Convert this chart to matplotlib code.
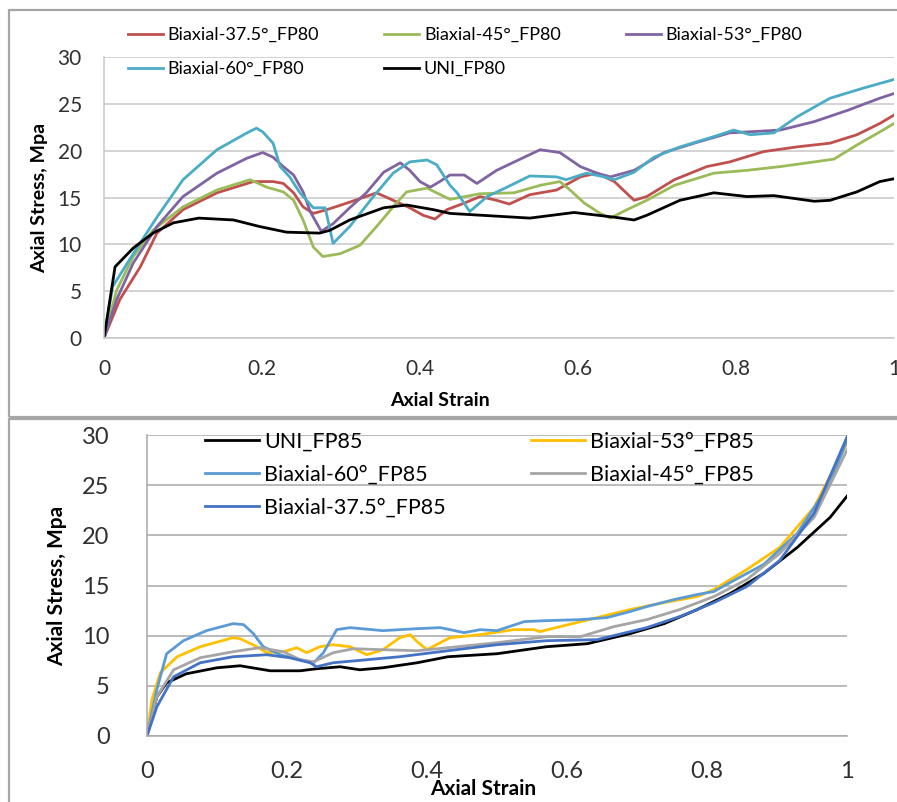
import matplotlib.pyplot as plt
from matplotlib.patches import Rectangle

plt.rcParams['font.family'] = ['Lato', 'DejaVu Sans']

# top chart (FP80)
uni80_x = [0, 0.014, 0.037, 0.062, 0.088, 0.12, 0.164, 0.197, 0.231, 0.273, 0.286, 0.311, 0.354, 0.383, 0.417,
           0.438, 0.519, 0.539, 0.595, 0.646, 0.671, 0.687, 0.729, 0.772, 0.814, 0.848, 0.899, 0.919, 0.953, 0.982, 1.0]
uni80_y = [0, 7.6, 9.6, 11.2, 12.3, 12.8, 12.6, 11.9, 11.3, 11.2, 11.5, 12.6, 13.9, 14.2, 13.7,
           13.3, 12.9, 12.8, 13.4, 12.9, 12.6, 13.1, 14.7, 15.5, 15.1, 15.2, 14.6, 14.7, 15.6, 16.7, 17.0]
b375_80_x = [0, 0.02, 0.046, 0.067, 0.1, 0.143, 0.189, 0.214, 0.227, 0.24, 0.252, 0.265, 0.282, 0.311, 0.345,
             0.366, 0.387, 0.404, 0.419, 0.434, 0.456, 0.476, 0.497, 0.513, 0.539, 0.573, 0.603, 0.624, 0.646,
             0.671, 0.687, 0.722, 0.763, 0.792, 0.835, 0.877, 0.919, 0.953, 0.982, 1.0]
b375_80_y = [0, 4.1, 7.6, 11.2, 13.7, 15.5, 16.7, 16.7, 16.5, 15.5, 14.0, 13.3, 13.7, 14.5, 15.5,
             14.7, 13.9, 13.1, 12.7, 13.7, 14.4, 15.1, 14.7, 14.3, 15.3, 15.8, 17.2, 17.6, 16.7,
             14.7, 15.1, 16.9, 18.3, 18.8, 19.9, 20.4, 20.8, 21.7, 22.9, 23.8]
b45_80_x = [0, 0.016, 0.037, 0.062, 0.1, 0.143, 0.185, 0.206, 0.227, 0.24, 0.252, 0.265, 0.277, 0.299, 0.324,
            0.345, 0.366, 0.383, 0.409, 0.421, 0.438, 0.476, 0.519, 0.552, 0.577, 0.59, 0.608, 0.628, 0.641,
            0.662, 0.687, 0.722, 0.772, 0.814, 0.856, 0.899, 0.924, 0.953, 0.982, 1.0]
b45_80_y = [0, 5.1, 8.7, 11.5, 14.0, 15.8, 16.9, 16.1, 15.6, 14.7, 12.6, 9.7, 8.7, 9.0, 9.9,
            11.9, 14.0, 15.6, 16.0, 15.5, 14.8, 15.4, 15.5, 16.3, 16.7, 15.8, 14.4, 13.3, 12.8,
            13.7, 14.7, 16.3, 17.6, 17.9, 18.3, 18.8, 19.1, 20.6, 22.0, 22.9]
b53_80_x = [0, 0.016, 0.037, 0.067, 0.1, 0.143, 0.181, 0.201, 0.214, 0.227, 0.24, 0.252, 0.261, 0.275, 0.29,
            0.311, 0.332, 0.354, 0.375, 0.387, 0.4, 0.413, 0.425, 0.438, 0.456, 0.472, 0.497, 0.532, 0.552,
            0.577, 0.603, 0.624, 0.641, 0.671, 0.709, 0.751, 0.792, 0.835, 0.856, 0.899, 0.941, 0.982, 1.0]
b53_80_y = [0, 4.1, 8.0, 11.9, 15.1, 17.6, 19.2, 19.8, 19.3, 18.3, 17.4, 15.6, 13.5, 11.4, 12.2,
            13.9, 15.5, 17.7, 18.7, 17.9, 16.7, 16.1, 16.7, 17.4, 17.4, 16.5, 17.9, 19.3, 20.1,
            19.8, 18.3, 17.6, 17.2, 17.9, 19.8, 20.9, 21.9, 22.1, 22.2, 23.1, 24.3, 25.6, 26.1]
b60_80_x = [0, 0.011, 0.037, 0.067, 0.1, 0.143, 0.181, 0.193, 0.201, 0.214, 0.223, 0.235, 0.248, 0.265, 0.28,
            0.29, 0.311, 0.341, 0.366, 0.387, 0.409, 0.421, 0.438, 0.447, 0.463, 0.485, 0.51, 0.539, 0.573,
            0.585, 0.611, 0.633, 0.646, 0.671, 0.696, 0.729, 0.772, 0.797, 0.818, 0.848, 0.877, 0.919, 0.962, 1.0]
b60_80_y = [0, 5.5, 9.0, 12.9, 16.9, 20.1, 21.9, 22.4, 22.0, 20.8, 18.3, 17.2, 15.5, 13.9, 13.9,
            10.1, 11.9, 15.1, 17.6, 18.8, 19.0, 18.5, 16.3, 15.5, 13.5, 15.1, 16.1, 17.3, 17.2,
            16.9, 17.6, 17.2, 16.9, 17.7, 19.3, 20.4, 21.5, 22.2, 21.7, 21.9, 23.6, 25.6, 26.7, 27.6]

# bottom chart (FP85)
uni85_x = [0, 0.014, 0.028, 0.056, 0.1, 0.133, 0.176, 0.219, 0.242, 0.276, 0.304, 0.337, 0.386, 0.43, 0.5,
           0.571, 0.629, 0.69, 0.739, 0.786, 0.833, 0.881, 0.929, 0.976, 1.0]
uni85_y = [0, 3.9, 5.3, 6.2, 6.8, 7.0, 6.5, 6.5, 6.7, 6.9, 6.6, 6.8, 7.3, 7.9, 8.2,
           8.9, 9.2, 10.2, 11.2, 12.6, 14.2, 16.2, 18.8, 21.8, 23.9]
b53_85_x = [0, 0.007, 0.019, 0.043, 0.076, 0.123, 0.133, 0.157, 0.171, 0.195, 0.214, 0.228, 0.247, 0.266,
            0.29, 0.314, 0.337, 0.361, 0.376, 0.386, 0.4, 0.419, 0.433, 0.476, 0.524, 0.553, 0.561, 0.596,
            0.643, 0.69, 0.739, 0.786, 0.81, 0.857, 0.904, 0.953, 0.99, 1.0]
b53_85_y = [0, 3.6, 6.3, 7.9, 8.9, 9.8, 9.7, 8.9, 8.3, 8.4, 8.8, 8.3, 8.9, 9.1,
            8.9, 8.1, 8.6, 9.8, 10.1, 9.4, 8.6, 9.3, 9.8, 10.1, 10.6, 10.6, 10.4, 11.0,
            11.8, 12.6, 13.3, 13.9, 14.6, 16.6, 18.8, 22.8, 27.8, 29.2]
b60_85_x = [0, 0.014, 0.028, 0.052, 0.085, 0.123, 0.138, 0.152, 0.166, 0.19, 0.219, 0.238, 0.252, 0.271,
            0.29, 0.337, 0.386, 0.419, 0.433, 0.453, 0.476, 0.5, 0.539, 0.571, 0.619, 0.657, 0.69, 0.714,
            0.753, 0.786, 0.81, 0.833, 0.881, 0.929, 0.976, 1.0]
b60_85_y = [0, 4.6, 8.2, 9.5, 10.5, 11.2, 11.1, 10.2, 8.9, 8.1, 7.6, 7.3, 8.3, 10.6,
            10.8, 10.5, 10.7, 10.8, 10.6, 10.3, 10.6, 10.5, 11.4, 11.5, 11.6, 11.8, 12.4, 12.9,
            13.6, 14.1, 14.4, 15.3, 17.1, 20.2, 25.2, 29.5]
b45_85_x = [0, 0.014, 0.038, 0.076, 0.123, 0.161, 0.195, 0.219, 0.238, 0.266, 0.295, 0.337, 0.386, 0.43,
            0.5, 0.571, 0.619, 0.667, 0.714, 0.761, 0.81, 0.857, 0.904, 0.953, 1.0]
b45_85_y = [0, 3.9, 6.6, 7.8, 8.4, 8.8, 8.4, 7.6, 7.4, 8.3, 8.7, 8.6, 8.5, 8.8,
            9.3, 9.9, 9.9, 10.9, 11.6, 12.6, 13.9, 15.6, 18.2, 21.8, 28.5]
b375_85_x = [0, 0.014, 0.038, 0.076, 0.123, 0.171, 0.204, 0.233, 0.242, 0.266, 0.314, 0.361, 0.43, 0.5,
             0.571, 0.643, 0.714, 0.761, 0.81, 0.857, 0.904, 0.953, 1.0]
b375_85_y = [0, 2.9, 5.9, 7.3, 7.9, 8.1, 7.8, 7.3, 6.9, 7.3, 7.6, 7.9, 8.5, 9.1,
             9.5, 9.6, 10.8, 11.9, 13.3, 14.9, 17.5, 22.2, 29.8]

top_series = [
    ('Biaxial-37.5°_FP80', b375_80_x, b375_80_y, '#C0504D'),
    ('Biaxial-45°_FP80', b45_80_x, b45_80_y, '#9BBB59'),
    ('Biaxial-53°_FP80', b53_80_x, b53_80_y, '#8064A2'),
    ('Biaxial-60°_FP80', b60_80_x, b60_80_y, '#4BACC6'),
    ('UNI_FP80', uni80_x, uni80_y, '#000000'),
]
bottom_series = [
    ('UNI_FP85', uni85_x, uni85_y, '#000000'),
    ('Biaxial-53°_FP85', b53_85_x, b53_85_y, '#FFC000'),
    ('Biaxial-60°_FP85', b60_85_x, b60_85_y, '#5B9BD5'),
    ('Biaxial-45°_FP85', b45_85_x, b45_85_y, '#A5A5A5'),
    ('Biaxial-37.5°_FP85', b375_85_x, b375_85_y, '#4472C4'),
]

W, H = 897, 802
fig = plt.figure(figsize=(W / 100, H / 100), dpi=100)

# panel frames
fig.add_artist(Rectangle((9 / W, 1 - 417 / H), 1.0, 407 / H, transform=fig.transFigure,
                         fill=False, ec='#A6A6A6', lw=1.6))
fig.add_artist(Rectangle((9 / W, -0.05), 1.0, 1 - 419 / H + 0.05, transform=fig.transFigure,
                         fill=False, ec='#A6A6A6', lw=1.6))


def style_axes(ax, tick_size, label_size, grid_color):
    ax.set_xlim(0, 1)
    ax.set_ylim(0, 30)
    ax.set_xticks([0, 0.2, 0.4, 0.6, 0.8, 1])
    ax.set_xticklabels(['0', '0.2', '0.4', '0.6', '0.8', '1'])
    ax.set_yticks(range(0, 31, 5))
    ax.grid(axis='y', color=grid_color, lw=1.1)
    ax.set_axisbelow(True)
    ax.tick_params(length=0, labelsize=tick_size, colors='#303030')
    for s in ['top', 'right']:
        ax.spines[s].set_visible(False)
    for s in ['left', 'bottom']:
        ax.spines[s].set_color(grid_color)
        ax.spines[s].set_linewidth(1.1)
    ax.set_xlabel('Axial Strain', fontsize=label_size, fontweight='bold')
    ax.set_ylabel('Axial Stress, Mpa', fontsize=label_size, fontweight='bold')


# top panel
ax1 = fig.add_axes([104 / W, 1 - 338 / H, 790 / W, 281 / H])
for name, xs, ys, c in top_series:
    ax1.plot(xs, ys, color=c, lw=2.0, label=name)
style_axes(ax1, 15, 14, '#C8C8C8')
ax1.tick_params(axis='x', pad=15)
ax1.tick_params(axis='y', pad=16)
ax1.xaxis.set_label_coords(336 / 790, -54 / 281)
ax1.yaxis.set_label_coords(-56 / 790, 0.5)

h1, l1 = ax1.get_legend_handles_labels()
order1 = [0, 3, 1, 4, 2]
fig.legend([h1[i] for i in order1], [l1[i] for i in order1], ncol=3, frameon=False,
           loc='upper left', bbox_to_anchor=(128 / W, 1 - 27 / H), borderpad=0, borderaxespad=0,
           fontsize=13, handlelength=1.95, handletextpad=0.25, columnspacing=3.6, labelspacing=1.0)

# bottom panel
ax2 = fig.add_axes([147 / W, 1 - 736 / H, 700 / W, 301 / H])
for name, xs, ys, c in bottom_series:
    ax2.plot(xs, ys, color=c, lw=2.0, label=name)
style_axes(ax2, 17, 15, '#A8A8A8')
ax2.tick_params(axis='x', pad=18)
ax2.tick_params(axis='y', pad=27)
ax2.xaxis.set_label_coords(336 / 700, -43 / 301)
ax2.yaxis.set_label_coords(-80 / 700, 0.5)

h2, l2 = ax2.get_legend_handles_labels()
order2 = [0, 2, 4, 1, 3]
fig.legend([h2[i] for i in order2], [l2[i] for i in order2], ncol=2, frameon=False,
           loc='upper left', bbox_to_anchor=(205 / W, 1 - 432 / H), borderpad=0, borderaxespad=0,
           fontsize=15.5, handlelength=2.5, handletextpad=0.25, columnspacing=3.95, labelspacing=0.6)

fig.savefig('out.png', dpi=100, facecolor='white')
